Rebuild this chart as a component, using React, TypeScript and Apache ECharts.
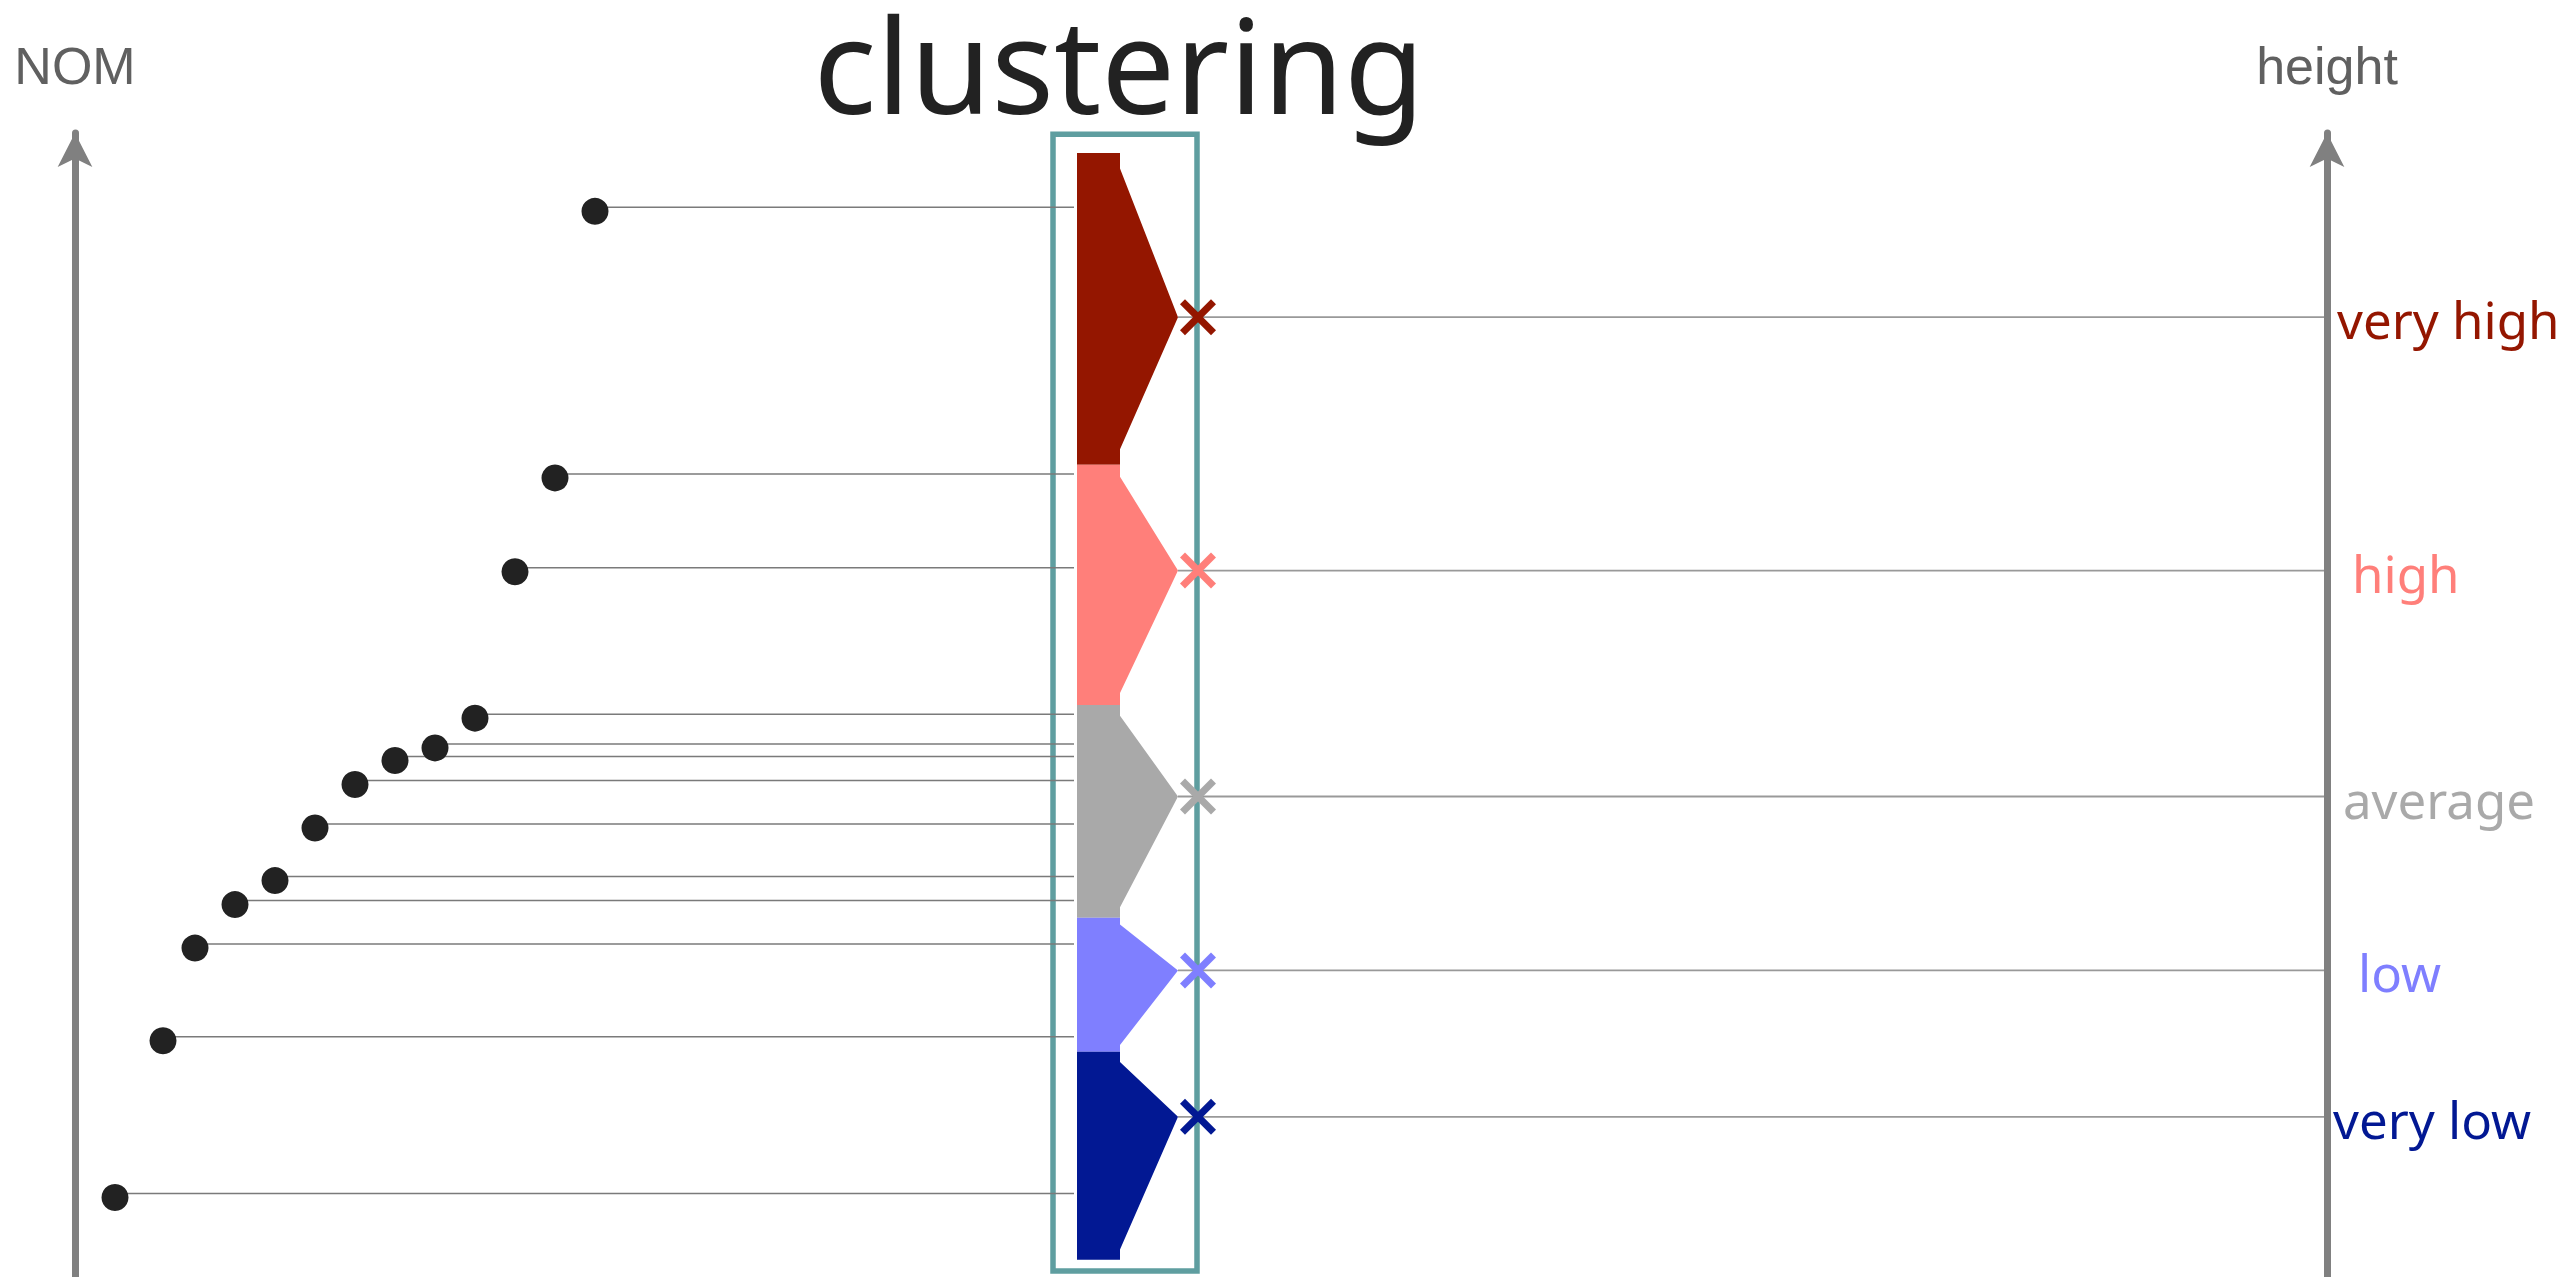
import React, { useEffect, useRef } from 'react';
import * as echarts from 'echarts';

// ---- data ----
const dotNom = [13, 12, 11, 10, 9, 8, 7, 6, 5, 4, 3, 2.2, 1];
const dotHeight = [93.5, 70.2, 62.0, 49.2, 46.6, 45.5, 43.4, 39.6, 35.0, 32.9, 29.1, 21.0, 7.3];

const clusterNames = ['very high', 'high', 'average', 'low', 'very low'];
const clusterUpper = [98.25, 71.0, 50.0, 31.4, 19.7];
const clusterLower = [71.0, 50.0, 31.4, 19.7, 1.5];
const clusterCentroid = [83.9, 61.75, 42.0, 26.8, 14.0];
const clusterColors = ['#941600', '#ff7f7a', '#a9a9a9', '#7f7fff', '#021893'];

// ---- layout (axis units / pixels) ----
const X_MAX = 56.3;
const LINK_END = 24.975;
const POLY_L = 25.05;
const POLY_R = 26.125;
const POLY_TIP = 27.575;
const MARK_X = 28.075;
const BOX = [24.45, 28.05, 99.9, 0.52];
const LABEL_DX = [10, 25, 16, 31, 6];

export default function App() {
  const ref = useRef<HTMLDivElement>(null);
  useEffect(() => {
    const chart = echarts.init(ref.current!, null, { renderer: 'svg' });
    const axis = (i: number) => ({
      type: 'value',
      min: 0,
      max: 100,
      position: i ? 'right' : 'left',
      name: i ? 'height' : 'NOM',
      nameLocation: 'end',
      nameGap: 41,
      nameTextStyle: { fontFamily: 'Liberation Sans', fontSize: 52, color: '#606060' },
      axisLine: {
        show: true,
        onZero: false,
        symbol: ['none', 'arrow'],
        symbolSize: [26, 34],
        lineStyle: { color: '#808080', width: 7 },
      },
      axisTick: { show: false },
      axisLabel: { show: false },
      splitLine: { show: false },
    });
    const option: any = {
      animation: false,
      backgroundColor: '#ffffff',
      grid: { left: 75, right: 239, top: 133, bottom: 0, containLabel: false },
      xAxis: { type: 'value', min: 0, max: X_MAX, show: false },
      yAxis: [axis(0), axis(1)],
      graphic: [
        {
          type: 'text',
          x: 1119,
          y: 63,
          style: {
            text: 'clustering',
            fontSize: 131,
            lineHeight: 110,
            fontFamily: 'Noto Sans',
            fill: '#222222',
            align: 'center',
            verticalAlign: 'middle',
          },
        },
      ],
      series: [
        {
          type: 'custom',
          name: 'box',
          z: 1,
          data: [BOX],
          renderItem: (params: any, api: any) => {
            const a = api.coord([api.value(0), api.value(2)]);
            const b = api.coord([api.value(1), api.value(3)]);
            return {
              type: 'rect',
              shape: { x: a[0], y: a[1], width: b[0] - a[0], height: b[1] - a[1] },
              style: { fill: 'none', stroke: '#5f9ea0', lineWidth: 5.5 },
            };
          },
        },
        {
          type: 'custom',
          name: 'links',
          z: 2,
          data: dotNom.map((x, i) => [x, dotHeight[i]]),
          renderItem: (params: any, api: any) => {
            const p0 = api.coord([api.value(0), api.value(1)]);
            const p1 = api.coord([LINK_END, api.value(1)]);
            return {
              type: 'line',
              shape: { x1: p0[0], y1: p0[1], x2: p1[0], y2: p1[1] },
              style: { stroke: '#7a7a7a', lineWidth: 1.5 },
            };
          },
        },
        {
          type: 'scatter',
          name: 'NOM',
          z: 3,
          data: dotNom.map((x, i) => [x, dotHeight[i]]),
          symbol: 'circle',
          symbolSize: 27,
          symbolOffset: [0, 4],
          itemStyle: { color: '#222222', opacity: 1 },
        },
        {
          type: 'custom',
          name: 'clusters',
          z: 4,
          data: clusterNames.map((n, i) => [clusterLower[i], clusterUpper[i], clusterCentroid[i], i]),
          renderItem: (params: any, api: any) => {
            const lo = api.value(0);
            const hi = api.value(1);
            const c = api.value(2);
            const idx = api.value(3);
            const notch = (hi - lo) * 0.05;
            const pts = [
              [POLY_L, hi],
              [POLY_R, hi],
              [POLY_R, hi - notch],
              [POLY_TIP, c],
              [POLY_R, lo + notch],
              [POLY_R, lo],
              [POLY_L, lo],
            ].map((p) => api.coord(p));
            return {
              type: 'polygon',
              shape: { points: pts },
              style: { fill: clusterColors[idx] },
            };
          },
        },
        {
          type: 'custom',
          name: 'centroids',
          z: 5,
          data: clusterNames.map((n, i) => [clusterCentroid[i], i]),
          renderItem: (params: any, api: any) => {
            const c = api.value(0);
            const idx = api.value(1);
            const tip = api.coord([POLY_TIP, c]);
            const ax = api.coord([X_MAX, c]);
            const m = api.coord([MARK_X, c]);
            const a = 15.5;
            const col = clusterColors[idx];
            return {
              type: 'group',
              children: [
                {
                  type: 'line',
                  shape: { x1: tip[0], y1: tip[1], x2: ax[0] - 3, y2: ax[1] },
                  style: { stroke: '#999999', lineWidth: 1.8 },
                },
                {
                  type: 'line',
                  shape: { x1: m[0] - a, y1: m[1] - a, x2: m[0] + a, y2: m[1] + a },
                  style: { stroke: col, lineWidth: 7, lineCap: 'butt' },
                },
                {
                  type: 'line',
                  shape: { x1: m[0] - a, y1: m[1] + a, x2: m[0] + a, y2: m[1] - a },
                  style: { stroke: col, lineWidth: 7, lineCap: 'butt' },
                },
                {
                  type: 'text',
                  x: ax[0] + LABEL_DX[idx],
                  y: ax[1] + 2,
                  style: {
                    text: clusterNames[idx],
                    fill: col,
                    fontSize: 51,
                    fontFamily: 'Noto Sans',
                    align: 'left',
                    verticalAlign: 'middle',
                  },
                },
              ],
            };
          },
        },
      ],
    };
    chart.setOption(option);
    return () => chart.dispose();
  }, []);
  return (
    <div
      ref={ref}
      style={{ position: 'fixed', left: 0, top: 0, width: 2566, height: 1277 }}
    />
  );
}
